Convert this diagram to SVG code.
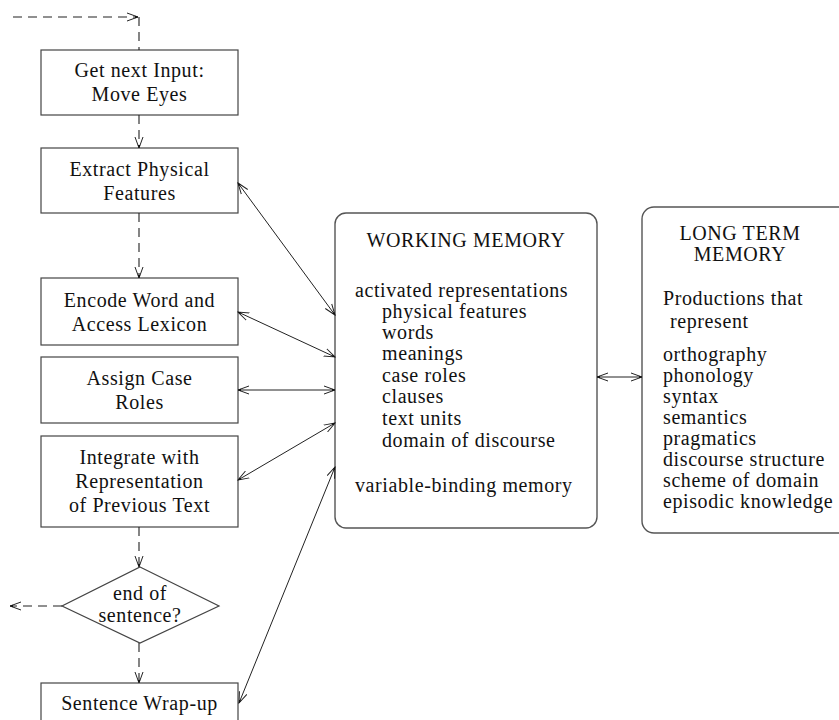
<svg xmlns="http://www.w3.org/2000/svg" width="839" height="720" viewBox="0 0 839 720">
  <style>
    .box { fill: #fff; stroke: #444; stroke-width: 1.2; }
    .mem { fill: #fff; stroke: #555; stroke-width: 1.4; }
    text { font-family: "Liberation Serif", "Times New Roman", serif; font-size: 20px; fill: #111; letter-spacing: 0.6px; }
    .c { text-anchor: middle; }
    .flow { fill: none; stroke: #222; stroke-width: 1.1; stroke-dasharray: 9 6; }
    .link { fill: none; stroke: #222; stroke-width: 1; }
  </style>
  <defs>
    <marker id="head" viewBox="0 0 12 10" refX="11" refY="5" markerWidth="12" markerHeight="10" markerUnits="userSpaceOnUse" orient="auto-start-reverse">
      <path d="M0,1 L11,5 L0,9" fill="none" stroke="#222" stroke-width="1"/>
      <path d="M8,3.8 L11,5 L8,6.2 Z" fill="#111"/>
    </marker>
  </defs>

  <!-- processing stages -->
  <g id="get-input">
    <rect class="box" x="41" y="50" width="197" height="65"/>
    <text class="c" x="139.5" y="77">Get next Input:</text>
    <text class="c" x="139.5" y="101">Move Eyes</text>
  </g>
  <g id="extract-features">
    <rect class="box" x="41" y="148" width="197" height="65"/>
    <text class="c" x="139.5" y="176">Extract Physical</text>
    <text class="c" x="139.5" y="200">Features</text>
  </g>
  <g id="encode-word">
    <rect class="box" x="41" y="278" width="197" height="67"/>
    <text class="c" x="139.5" y="307">Encode Word and</text>
    <text class="c" x="139.5" y="331">Access Lexicon</text>
  </g>
  <g id="assign-roles">
    <rect class="box" x="41" y="357" width="197" height="66"/>
    <text class="c" x="139.5" y="385">Assign Case</text>
    <text class="c" x="139.5" y="409">Roles</text>
  </g>
  <g id="integrate">
    <rect class="box" x="41" y="436" width="197" height="91"/>
    <text class="c" x="139.5" y="464">Integrate with</text>
    <text class="c" x="139.5" y="488">Representation</text>
    <text class="c" x="139.5" y="512">of Previous Text</text>
  </g>
  <g id="end-of-sentence">
    <polygon class="box" points="140,567 219,606 140,643 62,606"/>
    <text class="c" x="140" y="600">end of</text>
    <text class="c" x="140" y="622">sentence?</text>
  </g>
  <g id="wrap-up">
    <rect class="box" x="41" y="683" width="197" height="50"/>
    <text class="c" x="139.5" y="710">Sentence Wrap-up</text>
  </g>

  <!-- memory stores -->
  <g id="working-memory">
    <rect class="mem" x="335" y="213" width="262" height="315" rx="11" ry="11"/>
    <text class="c" x="466" y="247">WORKING MEMORY</text>
    <text x="355" y="297">activated representations</text>
    <text x="382" y="318">physical features</text>
    <text x="382" y="339">words</text>
    <text x="382" y="360">meanings</text>
    <text x="382" y="382">case roles</text>
    <text x="382" y="403">clauses</text>
    <text x="382" y="425">text units</text>
    <text x="382" y="447">domain of discourse</text>
    <text x="355" y="492">variable-binding memory</text>
  </g>
  <g id="long-term-memory">
    <rect class="mem" x="642" y="207" width="230" height="326" rx="12" ry="12"/>
    <text class="c" x="740" y="240">LONG TERM</text>
    <text class="c" x="740" y="261">MEMORY</text>
    <text x="663" y="305">Productions that</text>
    <text x="670" y="328">represent</text>
    <text x="663" y="361">orthography</text>
    <text x="663" y="382">phonology</text>
    <text x="663" y="403">syntax</text>
    <text x="663" y="424">semantics</text>
    <text x="663" y="445">pragmatics</text>
    <text x="663" y="466">discourse structure</text>
    <text x="663" y="487">scheme of domain</text>
    <text x="663" y="508">episodic knowledge</text>
  </g>

  <!-- connectors -->
  <g id="connectors">
    <!-- control flow (dashed) -->
    <path class="flow" d="M13,17 H138" marker-end="url(#head)"/>
    <path class="flow" d="M139,17 V50"/>
    <path class="flow" d="M139,115 V148" marker-end="url(#head)"/>
    <path class="flow" d="M139,213 V278" marker-end="url(#head)"/>
    <path class="flow" d="M139,527 V567" marker-end="url(#head)"/>
    <path class="flow" d="M139,643 V683" marker-end="url(#head)"/>
    <path class="flow" d="M62,606 H10" marker-end="url(#head)"/>
    <!-- exchanges with working memory -->
    <path class="link" d="M238,183 L335,315" marker-start="url(#head)" marker-end="url(#head)"/>
    <path class="link" d="M238,312 L335,357" marker-start="url(#head)" marker-end="url(#head)"/>
    <path class="link" d="M238,390 L335,390" marker-start="url(#head)" marker-end="url(#head)"/>
    <path class="link" d="M238,480 L335,423" marker-start="url(#head)" marker-end="url(#head)"/>
    <path class="link" d="M239,703 L335,467" marker-start="url(#head)" marker-end="url(#head)"/>
    <path class="link" d="M597,377 L642,377" marker-start="url(#head)" marker-end="url(#head)"/>
  </g>
</svg>
